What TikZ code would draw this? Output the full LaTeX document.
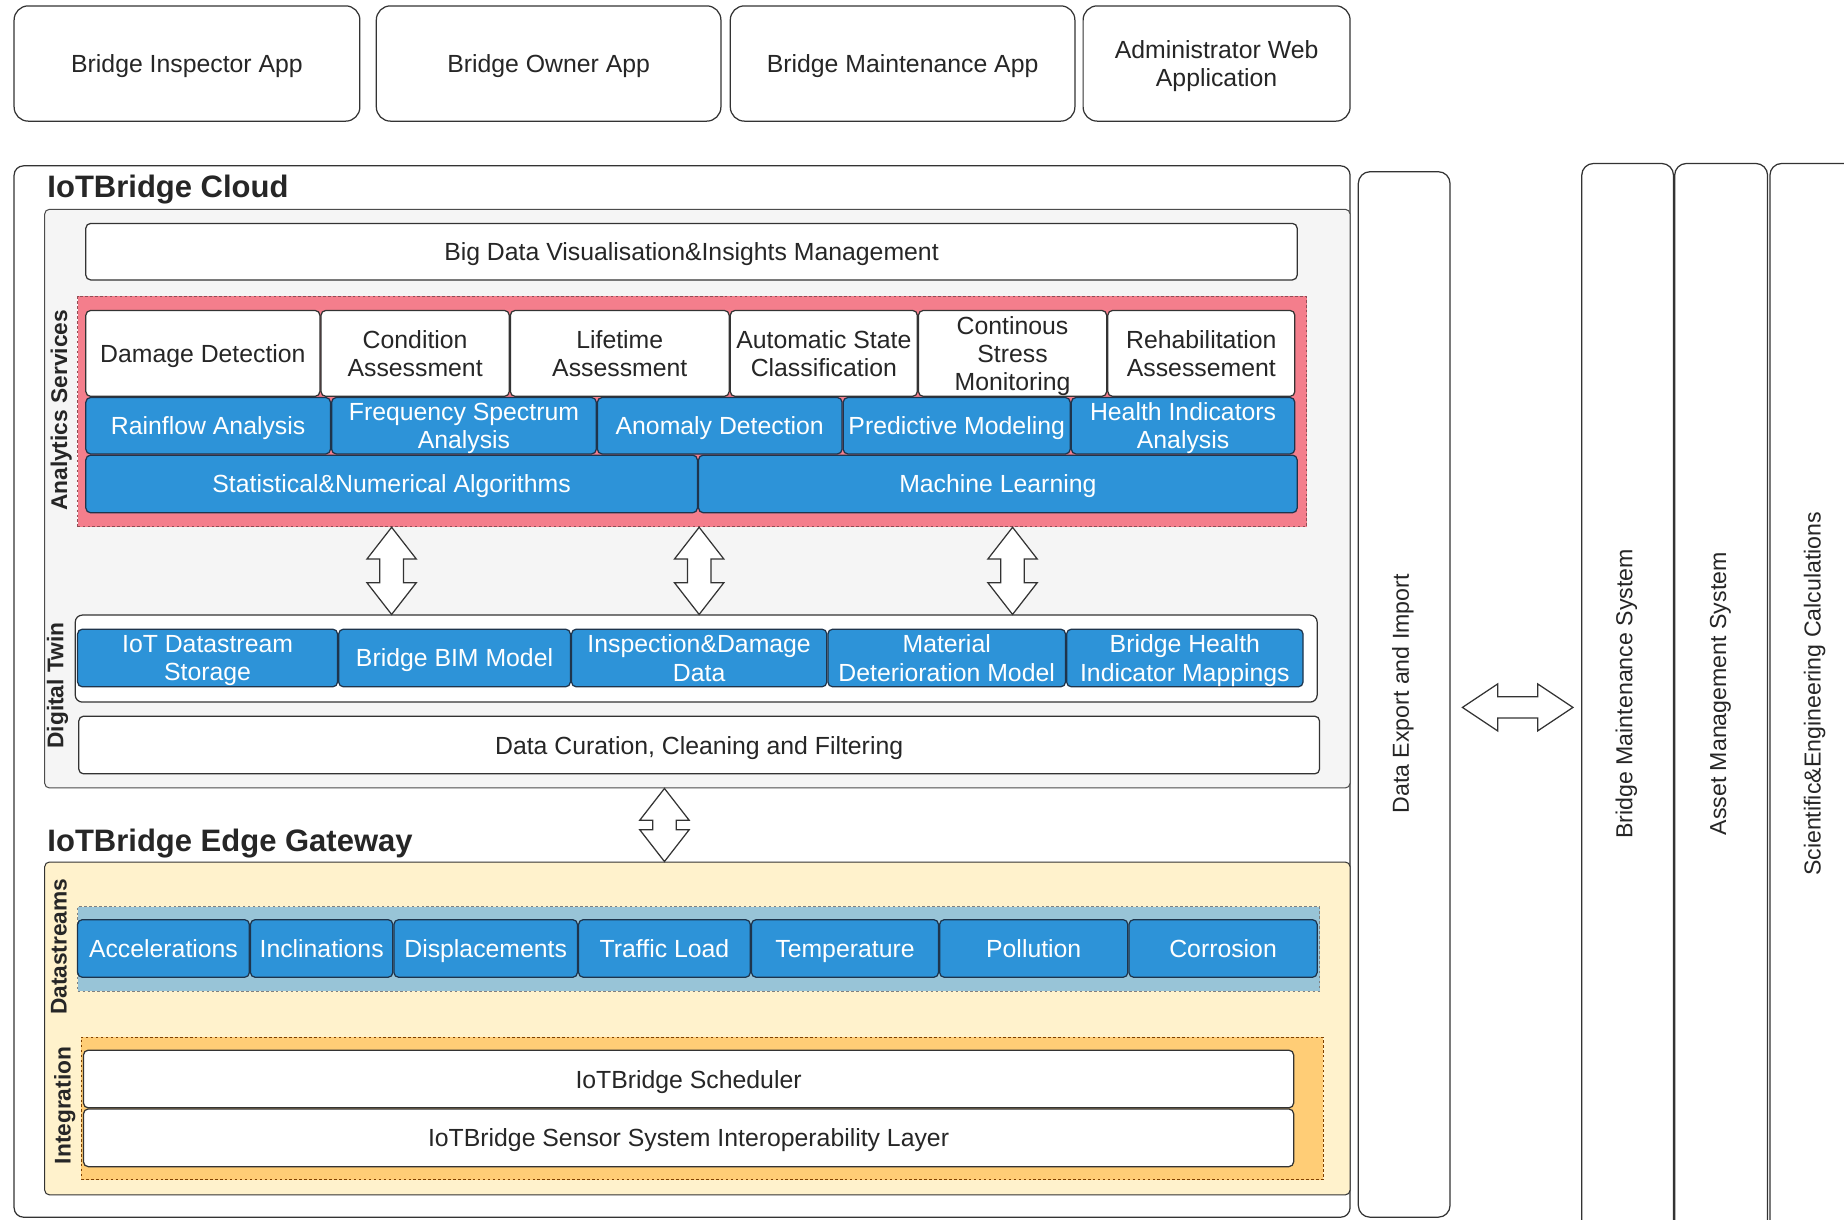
\documentclass[tikz,border=0pt]{standalone}
\usepackage{fontspec}
\setmainfont{Liberation Sans}
\usetikzlibrary{calc, positioning}

\definecolor{algoblue}{RGB}{45,147,216}
\definecolor{algoedge}{RGB}{30,52,76}
\definecolor{svcpink}{RGB}{244,126,140}
\definecolor{cloudgray}{RGB}{245,245,245}
\definecolor{edgecream}{RGB}{255,242,204}
\definecolor{streamblue}{RGB}{152,196,215}
\definecolor{integorange}{RGB}{255,205,118}

% hollow block arrows, vertical (top tip, bottom tip) and horizontal (left tip, right tip)
\newcommand\vblock[2]{%
  \draw[blk] (#1) -- ++(-4.2mm,-5.4mm) -- ++(2.2mm,0) -- ($(#2)+(-2mm,5.4mm)$) -- ++(-2.2mm,0) -- (#2)
    -- ++(4.2mm,5.4mm) -- ++(-2.2mm,0) -- ($(#1)+(2mm,-5.4mm)$) -- ++(2.2mm,0) -- cycle;}
\newcommand\hblock[2]{%
  \draw[blk] (#1) -- ++(6mm,4mm) -- ++(0,-2.2mm) -- ($(#2)+(-6mm,1.8mm)$) -- ++(0,2.2mm) -- (#2)
    -- ++(-6mm,-4mm) -- ++(0,2.2mm) -- ($(#1)+(6mm,-1.8mm)$) -- ++(0,-2.2mm) -- cycle;}

\begin{document}
\begin{tikzpicture}[x=0.2mm, y=-0.2mm]
  \tikzset{every node/.style={font=\fontsize{12}{13.6}\selectfont, inner sep=0pt, align=center, text=black!85},
    spans/.style args={#1/#2/#3/#4}{at={({(#1+#3)/2},{(#2+#4)/2})},
      minimum width={(#3-#1)*0.2mm}, minimum height={(#4-#2)*0.2mm}, text depth=0pt},
    box/.style={draw=black!80, line width=0.6pt, fill=white, rounded corners=0.8mm},
    app/.style={box, rounded corners=2.4mm},
    tall/.style={box, rounded corners=2mm},
    panel/.style={draw=black!70, line width=0.5pt, rounded corners=0.8mm},
    group/.style={dashed, line width=0.4pt, dash pattern=on 1.2pt off 1.2pt},
    algo/.style={draw=algoedge, line width=0.6pt, fill=algoblue, rounded corners=0.8mm, text=white},
    title/.style={font=\fontsize{15}{18}\selectfont\bfseries, anchor=west},
    lane/.style={font=\fontsize{11}{13}\selectfont\bfseries, rotate=90},
    side/.style={font=\fontsize{11.2}{13}\selectfont, rotate=90},
    blk/.style={draw=black!80, fill=white, line width=0.6pt, line join=miter}}

  \useasboundingbox (0,0) rectangle (1568,1037);
  \clip (0,0) rectangle (1568,1037);

  % client applications
  \node[app, spans=12/5/306/103] (inspector) {Bridge Inspector App};
  \node[app, spans=320/5/613/103] (owner) {Bridge Owner App};
  \node[app, spans=621/5/914/103] (maintapp) {Bridge Maintenance App};
  \node[app, spans=921/5/1148/103] (admin) {Administrator Web\\Application};

  % cloud and gateway frame
  \node[box, rounded corners=1.6mm, spans=12/141/1148/1035] (iot) {};
  \node[title] (cloudtitle) at (40,161) {IoTBridge Cloud};
  \node[panel, fill=cloudgray, spans=38/178/1148/670] (cloud) {};
  \node[box, spans=73/190/1103/238] (bigdata) {Big Data Visualisation\&Insights Management};

  % analytics services
  \node[group, fill=svcpink, draw=svcpink!60!black, spans=66/252/1111/448] (analytics) {};
  \node[lane] (analyticslbl) at (52,349) {Analytics Services};
  \node[box, spans=73/264/272/337] (damage) {Damage Detection};
  \node[box, spans=273/264/433/337] (condition) {Condition\\Assessment};
  \node[box, spans=434/264/620/337] (lifetime) {Lifetime\\Assessment};
  \node[box, spans=621/264/780/337] (state) {Automatic State\\Classification};
  \node[box, spans=781/264/941/337] (stress) {Continous\\Stress\\Monitoring};
  \node[box, spans=942/264/1101/337] (rehab) {Rehabilitation\\Assessement};
  \node[algo, spans=73/338/281/386] (rainflow) {Rainflow Analysis};
  \node[algo, spans=282/338/507/386] (spectrum) {Frequency Spectrum\\Analysis};
  \node[algo, spans=508/338/716/386] (anomaly) {Anomaly Detection};
  \node[algo, spans=717/338/910/386] (predictive) {Predictive Modeling};
  \node[algo, spans=911/338/1101/386] (indicators) {Health Indicators\\Analysis};
  \node[algo, spans=73/387/593/436] (stat) {Statistical\&Numerical Algorithms};
  \node[algo, spans=594/387/1103/436] (ml) {Machine Learning};

  % digital twin
  \node[box, rounded corners=1.2mm, spans=64/523/1120/597] (twin) {};
  \node[lane] (twinlbl) at (49,583) {Digital Twin};
  \node[algo, spans=66/535/287/584] (storage) {IoT Datastream\\Storage};
  \node[algo, spans=288/535/485/584] (bim) {Bridge BIM Model};
  \node[algo, spans=486/535/703/584] (inspdata) {Inspection\&Damage\\Data};
  \node[algo, spans=704/535/906/584] (material) {Material\\Deterioration Model};
  \node[algo, spans=907/535/1108/584] (mappings) {Bridge Health\\Indicator Mappings};
  \node[box, spans=67/609/1122/658] (curation) {Data Curation, Cleaning and Filtering};

  % edge gateway
  \node[title] (edgetitle) at (40,717) {IoTBridge Edge Gateway};
  \node[panel, fill=edgecream, draw=black!80, spans=38/733/1148/1016] (edge) {};
  \node[group, fill=streamblue, draw=gray, spans=66/771/1122/843] (streams) {};
  \node[lane] (streamslbl) at (50,805) {Datastreams};
  \node[algo, spans=66/782/212/831] (accel) {Accelerations};
  \node[algo, spans=213/782/334/831] (incl) {Inclinations};
  \node[algo, spans=335/782/491/831] (displ) {Displacements};
  \node[algo, spans=492/782/638/831] (traffic) {Traffic Load};
  \node[algo, spans=639/782/798/831] (temp) {Temperature};
  \node[algo, spans=799/782/959/831] (pollution) {Pollution};
  \node[algo, spans=960/782/1120/831] (corrosion) {Corrosion};
  \node[group, fill=integorange, draw=orange!50!black, spans=69/882/1125/1003] (integration) {};
  \node[lane] (integlbl) at (55,940) {Integration};
  \node[box, spans=71/893/1100/942] (scheduler) {IoTBridge Scheduler};
  \node[box, spans=71/943/1100/992] (interop) {IoTBridge Sensor System Interoperability Layer};

  % external systems
  \node[tall, spans=1155/146/1233/1035] (export) {};
  \node[side] (exportlbl) at (1193,590) {Data Export and Import};
  \node[tall, spans=1345/139/1423/1080] (bms) {};
  \node[side] (bmslbl) at (1383,590) {Bridge Maintenance System};
  \node[tall, spans=1424/139/1503/1080] (ams) {};
  \node[side] (amslbl) at (1463,590) {Asset Management System};
  \node[tall, spans=1505/139/1600/1080] (sci) {};
  \node[side] (scilbl) at (1543,590) {Scientific\&Engineering Calculations};

  % data exchange
  \coordinate (a1t) at (stat |- analytics.south);
  \coordinate (a1b) at (stat |- twin.north);
  \coordinate (a2t) at (inspdata |- analytics.south);
  \coordinate (a2b) at (inspdata |- twin.north);
  \coordinate (a3t) at (stress |- analytics.south);
  \coordinate (a3b) at (stress |- twin.north);
  \coordinate (a4t) at (traffic |- cloud.south);
  \coordinate (a4b) at (traffic |- edge.north);
  \coordinate (a5l) at ($(export.east)+(2mm,-2.2mm)$);
  \coordinate (a5m) at (bms.west |- a5l);
  \coordinate (a5r) at ($(a5m)+(-1.4mm,0)$);
  \vblock{a1t}{a1b}
  \vblock{a2t}{a2b}
  \vblock{a3t}{a3b}
  \vblock{a4t}{a4b}
  \hblock{a5l}{a5r}
\end{tikzpicture}
\end{document}
